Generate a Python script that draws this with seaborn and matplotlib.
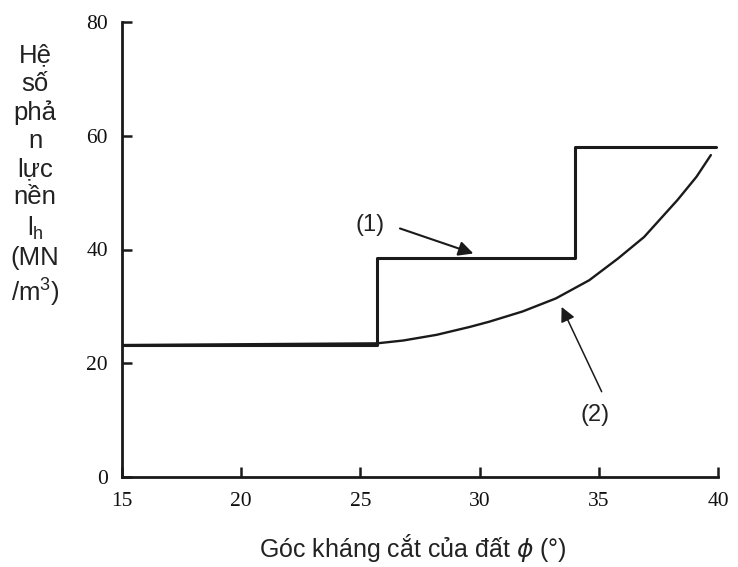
import matplotlib
matplotlib.use("Agg")
import matplotlib.pyplot as plt
import seaborn as sns
import pandas as pd

# --- data ---
step_phi = [15.0, 25.7, 34.0, 39.9]
step_kh = [23.2, 38.5, 58.0, 58.0]

curve_phi = [15.0, 25.7, 26.8, 28.2, 29.6, 30.4, 31.8, 33.2, 34.6, 35.8, 36.9, 38.3, 39.1, 39.7]
curve_kh = [23.2, 23.5, 24.0, 25.0, 26.4, 27.3, 29.1, 31.4, 34.6, 38.4, 42.2, 48.7, 52.8, 56.6]

x_ticks = [15, 20, 25, 30, 35, 40]
y_ticks = [0, 20, 40, 60, 80]

label1 = "(1)"
label2 = "(2)"
xlabel = "Góc kháng cắt của đất $\\phi$ (°)"
ylabel = "Hệ\nsố\nphả\nn\nlực\nnền\nl$_\\mathregular{h}$\n(MN\n/m$^\\mathregular{3}$)"

sns.set_style("white")
plt.rcParams["font.family"] = ["Liberation Sans", "DejaVu Sans"]
plt.rcParams["mathtext.fontset"] = "dejavusans"

fig = plt.figure(figsize=(7.38, 5.67), dpi=100)
ax = fig.add_axes([122 / 738, 1 - 477 / 567, (718 - 122) / 738, (477 - 22) / 567])

df1 = pd.DataFrame({"phi": step_phi, "kh": step_kh})
df2 = pd.DataFrame({"phi": curve_phi, "kh": curve_kh})

sns.lineplot(data=df1, x="phi", y="kh", ax=ax, color="#1a1a1a", lw=2.2,
             drawstyle="steps-post", estimator=None)
sns.lineplot(data=df2, x="phi", y="kh", ax=ax, color="#1a1a1a", lw=1.7,
             estimator=None)

ax.set_xlim(15, 40)
ax.set_ylim(0, 80)
ax.set_xticks(x_ticks)
ax.set_yticks(y_ticks)
ax.set_xlabel("")
ax.set_ylabel("")

for s in ["top", "right"]:
    ax.spines[s].set_visible(False)
for s in ["left", "bottom"]:
    ax.spines[s].set_linewidth(2.0)
    ax.spines[s].set_color("#1a1a1a")

ax.tick_params(axis="both", direction="in", length=7, width=1.8, color="#1a1a1a",
               labelsize=15.5, labelcolor="#111111", bottom=True, left=True)
ax.tick_params(axis="y", pad=10)
ax.tick_params(axis="x", pad=11)
for lab in ax.get_xticklabels() + ax.get_yticklabels():
    lab.set_fontfamily("Liberation Serif")

arrow_kw = dict(arrowstyle="-|>", color="#1a1a1a", lw=1.5, mutation_scale=22,
                shrinkA=0, shrinkB=0)
ax.annotate("", xy=(29.74, 39.3), xytext=(26.66, 43.7), arrowprops=arrow_kw)
ax.text(25.4, 44.3, label1, fontsize=17, ha="center", va="center", color="#222222")
ax.annotate("", xy=(33.44, 29.9), xytext=(35.12, 15.0),
            arrowprops=dict(arrow_kw, lw=1.1))
ax.text(34.84, 10.9, label2, fontsize=17, ha="center", va="center", color="#222222")

fig.text(413 / 738, 1 - 548 / 567, xlabel, fontsize=18, ha="center", va="center",
         color="#222222")
fig.text(35 / 738, 1 - 176 / 567, ylabel, fontsize=18.5, ha="center", va="center",
         multialignment="center", linespacing=1.22, color="#222222")

fig.savefig("out.png", dpi=100)
